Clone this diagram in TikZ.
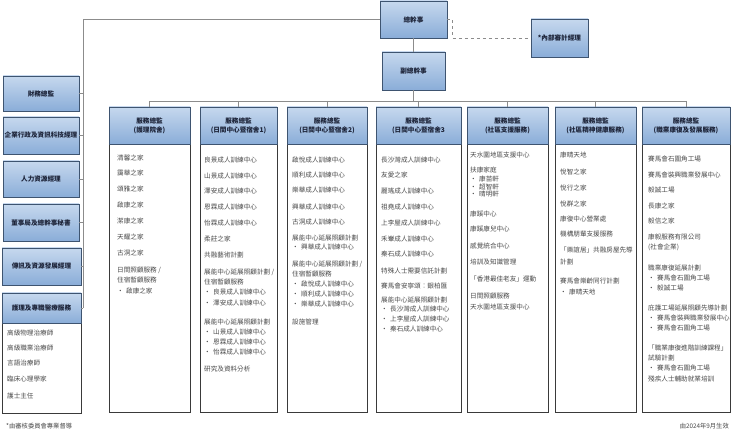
\documentclass[tikz,border=0pt]{standalone}
\usepackage{fontspec}
\setmainfont{Noto Sans CJK TC}
\definecolor{boxtop}{HTML}{C6D8EE}
\definecolor{boxbot}{HTML}{8AADD8}
\definecolor{boxline}{HTML}{3E5470}
\definecolor{bodyline}{HTML}{3A3A3A}
\definecolor{connc}{HTML}{8C8C8C}
\definecolor{itemtxt}{HTML}{4A4A4A}
\definecolor{headtxt}{HTML}{1C2338}
\newcommand{\bulit}{\makebox[9pt][l]{\textbullet}}
\tikzset{
  gbox/.style={draw=boxline, top color=boxtop, bottom color=boxbot, line width=0.7pt,
    inner sep=0pt, font=\fontsize{6.6}{9}\selectfont\bfseries, text=headtxt, align=center},
  bodybox/.style={draw=bodyline, fill=white, line width=0.8pt, inner sep=0pt},
  item/.style={anchor=west, inner sep=0pt, font=\fontsize{6.6}{8}\selectfont, text=itemtxt},
  conn/.style={draw=connc, line width=0.8pt},
  dconn/.style={conn, dashed},
  note/.style={inner sep=0pt, font=\fontsize{6.3}{8}\selectfont, text=itemtxt},
}
\begin{document}
\begin{tikzpicture}[x=1pt,y=-1pt]
\useasboundingbox[fill=white] (0,0) rectangle (740,433);

% top boxes
\node[gbox, minimum width=67, minimum height=37] (ceo) at (413.5,19.5) {總幹事};
\node[gbox, minimum width=63, minimum height=38] (dep) at (413.5,71) {副總幹事};
\node[gbox, minimum width=57, minimum height=38] (audit) at (559.5,38) {*內部審計經理};

% left boxes
\node[gbox, minimum width=76, minimum height=35] (fin) at (41,93.5) {財務總監};
\node[gbox, minimum width=76, minimum height=37] (adm) at (41,135.5) {企業行政及資訊科技經理};
\node[gbox, minimum width=76, minimum height=36] (hr) at (41,179) {人力資源經理};
\node[gbox, minimum width=76, minimum height=37] (sec) at (41,222.5) {董事局及總幹事秘書};
\node[gbox, minimum width=79, minimum height=37] (com) at (41.5,266.5) {傳訊及資源發展經理};
\node[bodybox, minimum width=79, minimum height=90] (nurb) at (41.5,368) {};
\node[gbox, minimum width=79, minimum height=30] (nur) at (41.5,308) {護理及專職醫療服務};

% columns: bodies then headers
\node[bodybox, minimum width=81, minimum height=268] (b1) at (149.5,278) {};
\node[bodybox, minimum width=77, minimum height=268] (b2) at (238.5,278) {};
\node[bodybox, minimum width=80, minimum height=268] (b3) at (327,278) {};
\node[bodybox, minimum width=85, minimum height=268] (b4) at (418.5,278) {};
\node[bodybox, minimum width=81, minimum height=268] (b5) at (507.5,278) {};
\node[bodybox, minimum width=81, minimum height=268] (b6) at (595.5,278) {};
\node[bodybox, minimum width=88, minimum height=268] (b7) at (686,278) {};

\node[gbox, minimum width=81, minimum height=37] (h1) at (149.5,125.5) {服務總監\\(護理院舍)};
\node[gbox, minimum width=77, minimum height=37] (h2) at (238.5,125.5) {服務總監\\(日間中心暨宿舍1)};
\node[gbox, minimum width=80, minimum height=37] (h3) at (327,125.5) {服務總監\\(日間中心暨宿舍2)};
\node[gbox, minimum width=85, minimum height=37] (h4) at (418.5,125.5) {服務總監\\(日間中心暨宿舍3};
\node[gbox, minimum width=81, minimum height=37] (h5) at (507.5,125.5) {服務總監\\(社區支援服務)};
\node[gbox, minimum width=81, minimum height=37] (h6) at (595.5,125.5) {服務總監\\(社區精神健康服務)};
\node[gbox, minimum width=88, minimum height=37] (h7) at (686,125.5) {服務總監\\(職業康復及發展服務)};

% connectors
\coordinate (lt) at (83,19.5);
\coordinate (lb) at (83,308);
\coordinate (bus) at (0,101);
\draw[conn] (ceo.west) -- (lt) -- (lb);
\foreach \n in {fin,adm,hr,sec,com,nur} {\draw[conn] (\n.east) -- (\n.east -| lt);}
\draw[conn] (ceo) -- (dep);
\draw[dconn] (ceo.east) -- ++(5,0) |- (audit.west);
\draw[conn] (dep.south) -- (dep.south |- bus);
\draw[conn] (h1.north |- bus) -- (h7.north |- bus);
\foreach \n in {h1,h2,h3,h4,h5,h6,h7} {\draw[conn] (\n.north |- bus) -- (\n.north);}

% left list
\foreach \yy/\t [count=\i] in {333/高級物理治療師, 348/高級職業治療師, 363/言語治療師, 379/臨床心理學家, 396/護士主任}
  {\node[item] (l-\i) at (7,\yy) {\t};}

% column 1
\foreach \yy/\t [count=\i] in {158/清馨之家, 173/靄華之家, 189/頌雅之家, 205/啟康之家, 221/潔康之家, 237/天耀之家, 253/古洞之家, 270/{日間照顧服務 /}, 280/住宿暫顧服務, 291/{\bulit 啟康之家}}
  {\node[item] (c1-\i) at (117,\yy) {\t};}

% column 2
\foreach \yy/\t [count=\i] in {160/良景成人訓練中心, 176/山景成人訓練中心, 191/澤安成人訓練中心, 207/恩霖成人訓練中心, 223/怡霖成人訓練中心, 239/柔莊之家, 255/共融藝術計劃, 272/{展能中心延展照顧計劃 /}, 282/住宿暫顧服務, 292/{\bulit 良景成人訓練中心}, 303/{\bulit 澤安成人訓練中心}, 322/展能中心延展照顧計劃, 332/{\bulit 山景成人訓練中心}, 342/{\bulit 恩霖成人訓練中心}, 352/{\bulit 怡霖成人訓練中心}, 369/研究及資料分析}
  {\node[item] (c2-\i) at (204,\yy) {\t};}

% column 3
\foreach \yy/\t [count=\i] in {160/啟悅成人訓練中心, 175/順利成人訓練中心, 190/樂華成人訓練中心, 207/興華成人訓練中心, 222/古洞成人訓練中心, 238/展能中心延展照顧計劃, 247/{\bulit 興華成人訓練中心}, 264/{展能中心延展照顧計劃 /}, 274/住宿暫顧服務, 284/{\bulit 啟悅成人訓練中心}, 294/{\bulit 順利成人訓練中心}, 304/{\bulit 樂華成人訓練中心}, 322/設施管理}
  {\node[item] (c3-\i) at (292,\yy) {\t};}

% column 4
\foreach \yy/\t [count=\i] in {160/長沙灣成人訓練中心, 175/友愛之家, 191/麗瑤成人訓練中心, 207/祖堯成人訓練中心, 223/上李屋成人訓練中心, 239/禾輋成人訓練中心, 254/秦石成人訓練中心, 271/特殊人士需要信託計劃, 286/{賽馬會安寧頌：銀柏匯}, 300/展能中心延展照顧計劃, 309/{\bulit 長沙灣成人訓練中心}, 319/{\bulit 上李屋成人訓練中心}, 329/{\bulit 秦石成人訓練中心}}
  {\node[item] (c4-\i) at (381,\yy) {\t};}

% column 5
\foreach \yy/\t [count=\i] in {155/天水圍地區支援中心, 170/扶康家庭, 178.5/{\bulit 康苗軒}, 186.5/{\bulit 超智軒}, 194.5/{\bulit 晴明軒}, 214/康蹊中心, 229/康蹊康兒中心, 246/感覺統合中心, 262/培訓及知識管理, 279/{「香港最佳老友」運動}, 296/日間照顧服務, 307/天水圍地區支援中心}
  {\node[item] (c5-\i) at (470,\yy) {\t};}

% column 6
\foreach \yy/\t [count=\i] in {155/康晴天地, 172/悅智之家, 188/悅行之家, 204/悅群之家, 219/康復中心營業處, 234/機構朋輩支援服務, 250/{「樂誼居」共融房屋先導}, 262/計劃, 281/賽馬會樂齡同行計劃, 292/{\bulit 康晴天地}}
  {\node[item] (c6-\i) at (560,\yy) {\t};}

% column 7
\foreach \yy/\t [count=\i] in {159/賽馬會石圍角工場, 175/賽馬會裝興職業發展中心, 190/毅誠工場, 206/長康之家, 221/毅信之家, 237/康毅服務有限公司, 247/(社會企業), 268/職業康復延展計劃, 278/{\bulit 賽馬會石圍角工場}, 288/{\bulit 毅誠工場}, 308/庇護工場延展照顧先導計劃, 318/{\bulit 賽馬會裝興職業發展中心}, 328/{\bulit 賽馬會石圍角工場}, 348/{「職業康復進階訓練課程」}, 358/試驗計劃, 368/{\bulit 賽馬會石圍角工場}, 379/殘疾人士輔助就業培訓}
  {\node[item] (c7-\i) at (648,\yy) {\t};}

% notes
\node[note, anchor=west] (fn) at (6,426) {*由審核委員會專業督導};
\node[note, anchor=east] (eff) at (729,426) {由2024年9月生效};
\end{tikzpicture}
\end{document}
